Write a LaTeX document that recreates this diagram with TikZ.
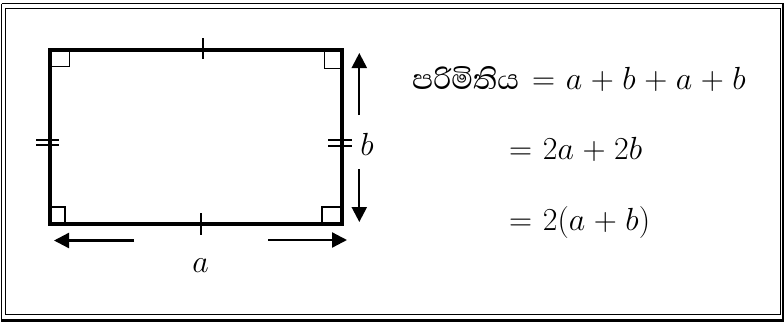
\documentclass[tikz,border=0pt]{standalone}
\usepackage{fix-cm}
\usepackage{fontspec}
\newfontfamily\sinhalafont[Script=Sinhala]{Abhaya Libre}
\usetikzlibrary{arrows.meta}
\newcommand\eqspacing{\medmuskip=4.8mu\relax\thickmuskip=6mu\relax}
\tikzset{
  edge/.style={line width=4pt},
  rmark/.style={line width=1.6pt},
  tick/.style={line width=2pt},
  dimarrow/.style={line width=2.3pt,-{Triangle[length=15pt,width=15pt]}},
  eq/.style={anchor=base west,inner sep=0pt,font=\fontsize{32}{38}\selectfont\eqspacing},
  lbl/.style={inner sep=0pt,font=\fontsize{32}{38}\selectfont}
}
\begin{document}
\begin{tikzpicture}[x=1pt,y=-1pt]
\useasboundingbox (0,0) rectangle (784,322);
% frame
\draw[line width=1.5pt] (1.5,3.5) -- (1.5,320) ;
\draw[line width=1.5pt] (1.5,3.5) -- (783,3.5);
\draw[line width=3pt] (783,2.5) -- (783,320.5) -- (0.5,320.5);
\draw[line width=1.3pt] (5.5,8.3) rectangle (780.8,314.8);
% rectangle corners
\coordinate (tl) at (49.5,49.5);
\coordinate (tr) at (341.7,49.5);
\coordinate (br) at (341.7,224);
\coordinate (bl) at (49.5,224);
% right-angle marks
\draw[rmark] (51.5,66.5) -- (69.5,66.5) -- (69.5,51.5);
\draw[rmark] (339.5,68.5) -- (324.5,68.5) -- (324.5,51.5);
\draw[rmark] (339.5,207) -- (322,207) -- (322,222);
\draw[rmark] (51.5,207) -- (65,207) -- (65,222);
% ticks
\draw[tick] (203,38) -- (203,59);
\draw[tick] (200.7,213) -- (200.7,235);
\draw[tick] (36,139.5) -- (59,139.5) (36,145) -- (59,145);
\draw[tick] (328,140) -- (352,140) (328,145.5) -- (352,145.5);
% rectangle
\draw[edge,line join=miter] (tl) -- (tr) -- (br) -- (bl) -- cycle;
% dimension arrows
\coordinate (ua) at (359.3,115);
\coordinate (ub) at (359.3,53);
\coordinate (da) at (359.3,169);
\coordinate (db) at (359.3,222);
\coordinate (la) at (134,240.5);
\coordinate (lb) at (54,240.5);
\coordinate (ra) at (268,240);
\coordinate (rb) at (347,240);
\draw[dimarrow] (ua) -- (ub);
\draw[dimarrow] (da) -- (db);
\draw[dimarrow] (la) -- (lb);
\draw[dimarrow] (ra) -- (rb);
\node[lbl] (b) at (367,144) {$b$};
\node[lbl] (a) at (200.5,266) {$a$};
% equations
\node[eq,font=\fontsize{36}{40}\selectfont] (per) at (412,89.5) {\sinhalafont පරිමිතිය};
\node[eq] (e1) at (532,89.5) {$=a+b+a+b$};
\node[eq] (e2) at (509,159.5) {$=2a+2b$};
\node[eq] (e3) at (509,230) {$=2(a+b)$};
\end{tikzpicture}
\end{document}
